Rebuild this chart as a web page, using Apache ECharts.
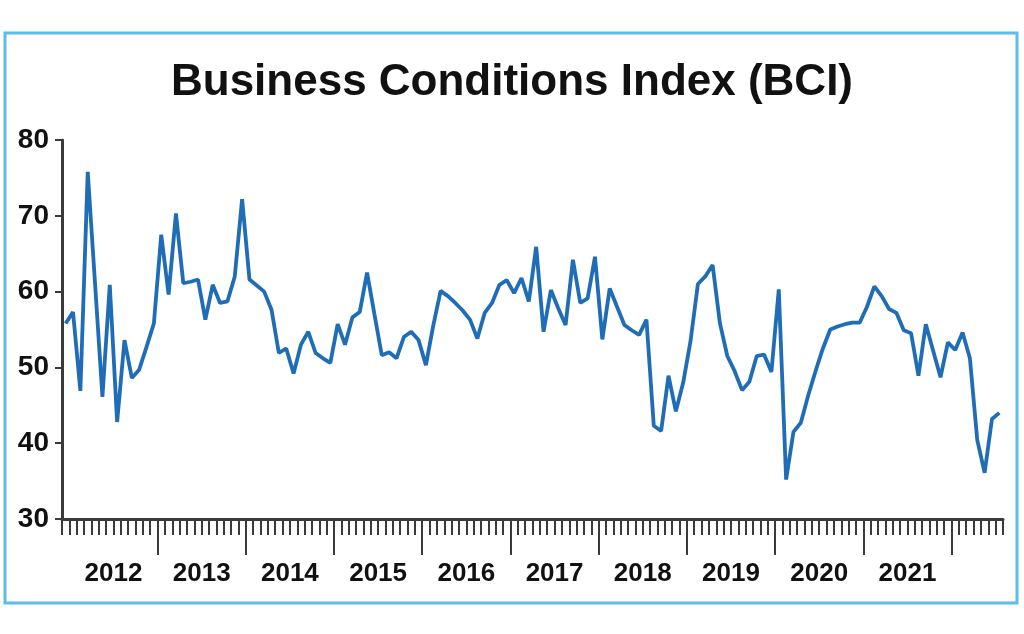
<!DOCTYPE html>
<html>
<head>
<meta charset="utf-8">
<script src="https://cdn.jsdelivr.net/npm/echarts@6/dist/echarts.min.js"></script>
<style>
  html, body { margin: 0; padding: 0; background: #fff; }
  #chart { width: 1024px; height: 634px; }
</style>
</head>
<body>
<div id="chart"></div>
<script>
// monthly BCI values, Dec 2011 .. Jul 2022
const bciValues = [
  55.8, 57.3, 46.9, 75.8, 61.0, 46.1, 60.9, 42.8, 53.6, 48.6, 49.7, 52.7, 55.8,
  67.5, 59.6, 70.3, 61.1, 61.3, 61.6, 56.3, 60.9, 58.5, 58.7, 62.0, 72.2,
  61.6, 60.8, 60.0, 57.6, 51.9, 52.5, 49.2, 53.0, 54.7, 51.9, 51.2, 50.6,
  55.7, 53.0, 56.6, 57.3, 62.5, 57.0, 51.6, 52.0, 51.2, 54.0, 54.7, 53.6,
  50.3, 55.5, 60.1, 59.4, 58.5, 57.5, 56.3, 53.8, 57.2, 58.5, 60.9, 61.5,
  59.8, 61.8, 58.7, 65.9, 54.7, 60.2, 57.8, 55.6, 64.2, 58.5, 59.1, 64.6,
  53.7, 60.4, 58.0, 55.6, 54.9, 54.3, 56.3, 42.3, 41.6, 48.9, 44.2, 48.0,
  53.5, 61.0, 62.0, 63.5, 55.8, 51.5, 49.5, 47.0, 48.1, 51.5, 51.7, 49.4,
  60.3, 35.2, 41.5, 42.7, 46.3, 49.5, 52.5, 55.0, 55.4, 55.7, 55.9, 55.9,
  58.0, 60.7, 59.4, 57.7, 57.2, 54.9, 54.5, 48.9, 55.7, 52.2, 48.7, 53.3,
  52.3, 54.6, 51.2, 40.4, 36.1, 43.2, 44.0
];
const startYear = 2011;
const startMonth = 12;
const yearLabels = ['2012', '2013', '2014', '2015', '2016', '2017', '2018', '2019', '2020', '2021'];
const yTicks = [30, 40, 50, 60, 70, 80];

// month categories, plus one extra boundary for the tick axis
const months = [];
for (let i = 0; i <= bciValues.length; i++) {
  const m = startMonth - 1 + i;
  const y = startYear + Math.floor(m / 12);
  const mm = (m % 12) + 1;
  months.push(y + '-' + (mm < 10 ? '0' + mm : mm));
}
const categories = months.slice(0, bciValues.length);

const chart = echarts.init(document.getElementById('chart'));
const axisColor = '#3a3a3a';
const labelFont = '"Liberation Sans Narrow", "Liberation Sans", sans-serif';

const option = {
  animation: false,
  title: {
    text: 'Business Conditions Index (BCI)',
    left: 'center',
    top: 56,
    textStyle: {
      fontFamily: '"Liberation Sans", sans-serif',
      fontWeight: 'bold',
      fontSize: 44,
      color: '#111'
    }
  },
  graphic: [{
    type: 'rect',
    shape: { x: 5, y: 33, width: 1012, height: 570 },
    style: { fill: 'none', stroke: '#5bbde8', lineWidth: 3 },
    silent: true
  }],
  grid: { left: 62, right: 21, top: 140, bottom: 115 },
  xAxis: [
    {
      type: 'category',
      data: categories,
      boundaryGap: true,
      axisLine: { show: true, lineStyle: { color: axisColor, width: 3 } },
      axisTick: { show: true, interval: 0, length: 16, lineStyle: { color: axisColor, width: 2 } },
      axisLabel: { show: false },
      splitLine: { show: false }
    },
    {
      type: 'category',
      data: months,
      boundaryGap: false,
      position: 'bottom',
      axisLine: { show: false },
      axisTick: {
        show: true,
        length: 36,
        interval: (idx) => idx >= 13 && (idx - 1) % 12 === 0 && idx < months.length - 1,
        lineStyle: { color: axisColor, width: 2 }
      },
      axisLabel: {
        show: true,
        interval: (idx) => idx >= 7 && (idx - 7) % 12 === 0 && yearLabels.indexOf(months[idx].slice(0, 4)) >= 0,
        formatter: (v) => v.slice(0, 4),
        margin: 42,
        fontFamily: labelFont,
        fontWeight: 'bold',
        fontSize: 26,
        color: '#111'
      },
      splitLine: { show: false }
    }
  ],
  yAxis: {
    type: 'value',
    min: yTicks[0],
    max: yTicks[yTicks.length - 1],
    interval: 10,
    axisLine: { show: true, lineStyle: { color: axisColor, width: 3 } },
    axisTick: { show: true, length: 7, lineStyle: { color: axisColor, width: 2 } },
    axisLabel: {
      margin: 13,
      fontFamily: labelFont,
      fontWeight: 'bold',
      fontSize: 28,
      color: '#111'
    },
    splitLine: { show: false }
  },
  series: [{
    type: 'line',
    xAxisIndex: 0,
    data: bciValues,
    symbol: 'none',
    lineStyle: { color: '#1f6db6', width: 3.8 },
    itemStyle: { color: '#1f6db6' }
  }]
};
chart.setOption(option);
</script>
</body>
</html>
